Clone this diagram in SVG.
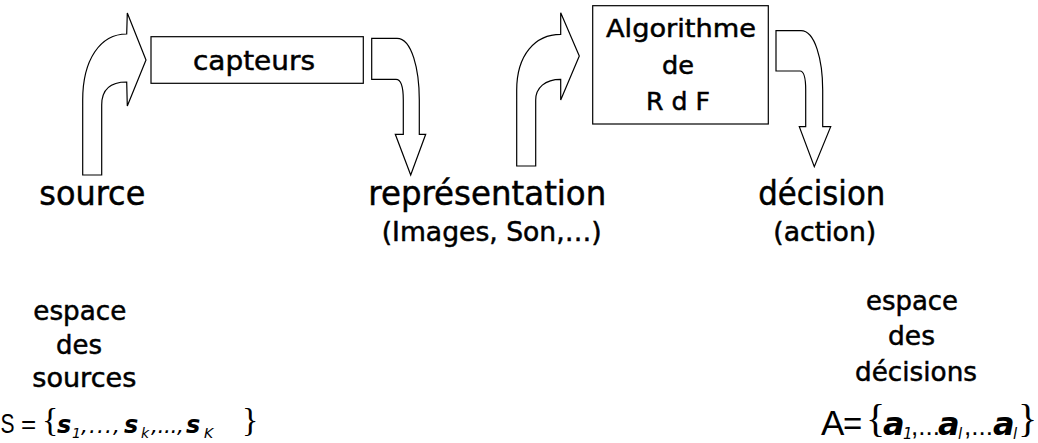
<svg xmlns="http://www.w3.org/2000/svg" width="1038" height="443" viewBox="0 0 1038 443">
<style>
.shape{fill:#fff;stroke:#000;stroke-width:1.2}
.lbl{font-family:"DejaVu Sans",sans-serif;fill:#000;stroke:#000;stroke-width:0.5}
.ar{font-family:"Liberation Sans",Arial,sans-serif;fill:#000}
.br{font-family:"Liberation Serif","Times New Roman",serif;fill:#000}
.var{font-family:"DejaVu Sans",sans-serif;font-style:oblique;font-weight:bold;fill:#000}
.sub{font-family:"DejaVu Sans",sans-serif;font-style:oblique;fill:#000}
</style>
<rect width="1038" height="443" fill="#fff"/>
<g id="connectors">
<path class="shape" d="M82.7,175 L82.7,100 C82.7,60 100,34 126.7,34 L127.3,13 L146,60 L127.3,106 L126.7,82 C110,82 101.7,90 101.7,105 L101.7,175 Z"/>
<path class="shape" d="M371.7,38.3 L397,38.3 C412,38.3 419.3,70 419.3,100 L419.3,134.3 L425.7,134.3 L410.7,175 L395.3,134.3 L403.3,134.3 L403.3,100 C403.3,88 401,79.3 396,79.3 L371.7,79.3 Z"/>
<path class="shape" d="M516.7,166 L516.7,90 C516.7,55 535,34.3 560.7,34.3 L560.7,12.7 L579.3,56 L560.7,100 L560.7,79.3 C545,79.3 535.7,88 535.7,100 L535.7,166 Z"/>
<path class="shape" d="M776,30.7 L801,30.7 C815,30.7 822.7,60 822.7,90 L822.7,126.7 L830.7,126.7 L814.3,166.7 L799.3,126.7 L805.7,126.7 L805.7,90 C805.7,78 804,71 800,71 L776,71 Z"/>
</g>
<g id="capteurs">
<rect class="shape" x="151" y="36.7" width="212.3" height="46.6"/>
<text class="lbl" x="193" y="70" font-size="27" textLength="122" lengthAdjust="spacingAndGlyphs">capteurs</text>
</g>
<g id="algorithme">
<rect class="shape" x="592.7" y="5.7" width="175.6" height="118.3"/>
<text class="lbl" x="606" y="37" font-size="25" textLength="150" lengthAdjust="spacingAndGlyphs">Algorithme</text>
<text class="lbl" x="662" y="74" font-size="25" textLength="32" lengthAdjust="spacingAndGlyphs">de</text>
<text class="lbl" x="646" y="110" font-size="25" textLength="64" lengthAdjust="spacingAndGlyphs">R d F</text>
</g>
<g id="source">
<text class="lbl" x="39.3" y="205" font-size="34" textLength="106" lengthAdjust="spacingAndGlyphs">source</text>
</g>
<g id="representation">
<text class="lbl" x="368.3" y="205" font-size="34" textLength="238" lengthAdjust="spacingAndGlyphs">représentation</text>
<text class="lbl" x="381.7" y="241" font-size="26" textLength="220" lengthAdjust="spacingAndGlyphs">(Images, Son,…)</text>
</g>
<g id="decision">
<text class="lbl" x="758.3" y="205" font-size="34" textLength="127" lengthAdjust="spacingAndGlyphs">décision</text>
<text class="lbl" x="773.3" y="241" font-size="26" textLength="103" lengthAdjust="spacingAndGlyphs">(action)</text>
</g>
<g id="espace-sources">
<text class="lbl" x="33.3" y="320" font-size="27" textLength="93" lengthAdjust="spacingAndGlyphs">espace</text>
<text class="lbl" x="56" y="354" font-size="27" textLength="46" lengthAdjust="spacingAndGlyphs">des</text>
<text class="lbl" x="32.3" y="387" font-size="27" textLength="104" lengthAdjust="spacingAndGlyphs">sources</text>
<text class="ar" transform="translate(0.5,433) scale(0.75,1)" font-size="28">S</text>
<text class="ar" x="21" y="433" font-size="26">=</text>
<text class="br" x="42" y="431" font-size="34">{</text>
<text class="var" x="57" y="433" font-size="24">s</text>
<text class="sub" x="72" y="438" font-size="14">1</text>
<text class="sub" x="81" y="433" font-size="22" textLength="39" lengthAdjust="spacing">,...,</text>
<text class="var" x="124" y="433" font-size="24">s</text>
<text class="sub" x="141" y="438" font-size="14">k</text>
<text class="sub" x="151" y="433" font-size="22" textLength="33" lengthAdjust="spacing">,...,</text>
<text class="var" x="186" y="433" font-size="24">s</text>
<text class="sub" x="204" y="438" font-size="14">K</text>
<text class="br" x="242" y="431" font-size="34">}</text>
</g>
<g id="espace-decisions">
<text class="lbl" x="866" y="310" font-size="27" textLength="92" lengthAdjust="spacingAndGlyphs">espace</text>
<text class="lbl" x="888" y="345" font-size="27" textLength="47" lengthAdjust="spacingAndGlyphs">des</text>
<text class="lbl" x="855" y="381" font-size="27" textLength="122" lengthAdjust="spacingAndGlyphs">décisions</text>
<text class="ar" x="821" y="435" font-size="35">A</text>
<text class="ar" x="843" y="435" font-size="33">=</text>
<text class="br" x="866" y="432" font-size="40">{</text>
<text class="var" x="883" y="435" font-size="32">a</text>
<text class="sub" x="903" y="439" font-size="15">1</text>
<text class="ar" x="911" y="435" font-size="26">,...</text>
<text class="var" x="938" y="435" font-size="32">a</text>
<text class="sub" x="958" y="439" font-size="15">l</text>
<text class="ar" x="964" y="435" font-size="26">,...</text>
<text class="var" x="993" y="435" font-size="32">a</text>
<text class="sub" x="1013" y="439" font-size="15">l</text>
<text class="br" x="1018" y="432" font-size="40">}</text>
</g>
</svg>
